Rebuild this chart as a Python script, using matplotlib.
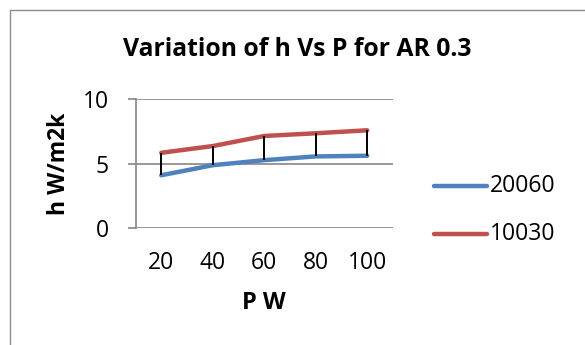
import matplotlib
matplotlib.use("Agg")
import matplotlib.pyplot as plt
from matplotlib.patches import Rectangle
from matplotlib.lines import Line2D

categories = ["20", "40", "60", "80", "100"]
series_20060 = [4.1, 4.88, 5.27, 5.56, 5.61]
series_10030 = [5.84, 6.36, 7.14, 7.35, 7.58]
series_names = ["20060", "10030"]
yticks = [0, 5, 10]

W, H = 585, 345
DPI = 100
plt.rcParams['font.family'] = ['Open Sans', 'DejaVu Sans']

fig = plt.figure(figsize=(W / DPI, H / DPI), dpi=DPI)
fig.patch.set_facecolor('white')

# chart border (only top/left visible)
fig.patches.append(Rectangle((10 / W, -0.1), 2.0, 1 - 10 / H + 0.1, transform=fig.transFigure,
                             fill=False, edgecolor='#8c8c8c', linewidth=1.0))

left, right, top, bottom = 135.5, 393, 99, 228.3
ax = fig.add_axes([left / W, 1 - bottom / H, (right - left) / W, (bottom - top) / H])

x = list(range(len(categories)))
blue = '#4F81BD'
red = '#C0504D'
ax.vlines(x, series_20060, series_10030, colors='black', linewidth=1.4, zorder=3)
ax.plot(x, series_20060, color=blue, linewidth=3.2, solid_capstyle='round', solid_joinstyle='round', zorder=2)
ax.plot(x, series_10030, color=red, linewidth=3.2, solid_capstyle='round', solid_joinstyle='round', zorder=2)

ax.set_xlim(-0.5, len(categories) - 0.5)
ax.set_ylim(0, 10)
ax.set_yticks(yticks)
ax.set_yticklabels([str(v) for v in yticks])
ax.set_xticks(x)
ax.set_xticklabels(categories)

ax.grid(axis='y', color='#868686', linewidth=1.2)
ax.set_axisbelow(True)
for s in ['top', 'right', 'bottom']:
    ax.spines[s].set_visible(False)
ax.spines['left'].set_color('#868686')
ax.spines['left'].set_linewidth(1.2)
ax.tick_params(axis='y', length=6, width=1.2, color='#868686', pad=13, labelsize=16.5)
ax.tick_params(axis='x', length=0, pad=16, labelsize=16.5)

fig.text(264 / W, 1 - 303 / H, "P W", ha='center', va='center', fontsize=17, fontweight='bold')
fig.text(59 / W, 1 - 164 / H, "h W/m2k", ha='center', va='center', rotation=90, fontsize=16.5, fontweight='bold')
fig.text(297 / W, 1 - 49 / H, "Variation of h Vs P for AR 0.3", ha='center', va='center', fontsize=17.8, fontweight='bold')

# legend
for name, col, yy in [(series_names[0], blue, 185.7), (series_names[1], red, 234)]:
    fig.lines.append(Line2D([434 / W, 487 / W], [1 - yy / H, 1 - yy / H], transform=fig.transFigure,
                            color=col, linewidth=3.2, solid_capstyle='round'))
    fig.text(490 / W, 1 - yy / H, name, ha='left', va='center', fontsize=16.5)

fig.savefig("out.png", dpi=DPI, facecolor='white')
